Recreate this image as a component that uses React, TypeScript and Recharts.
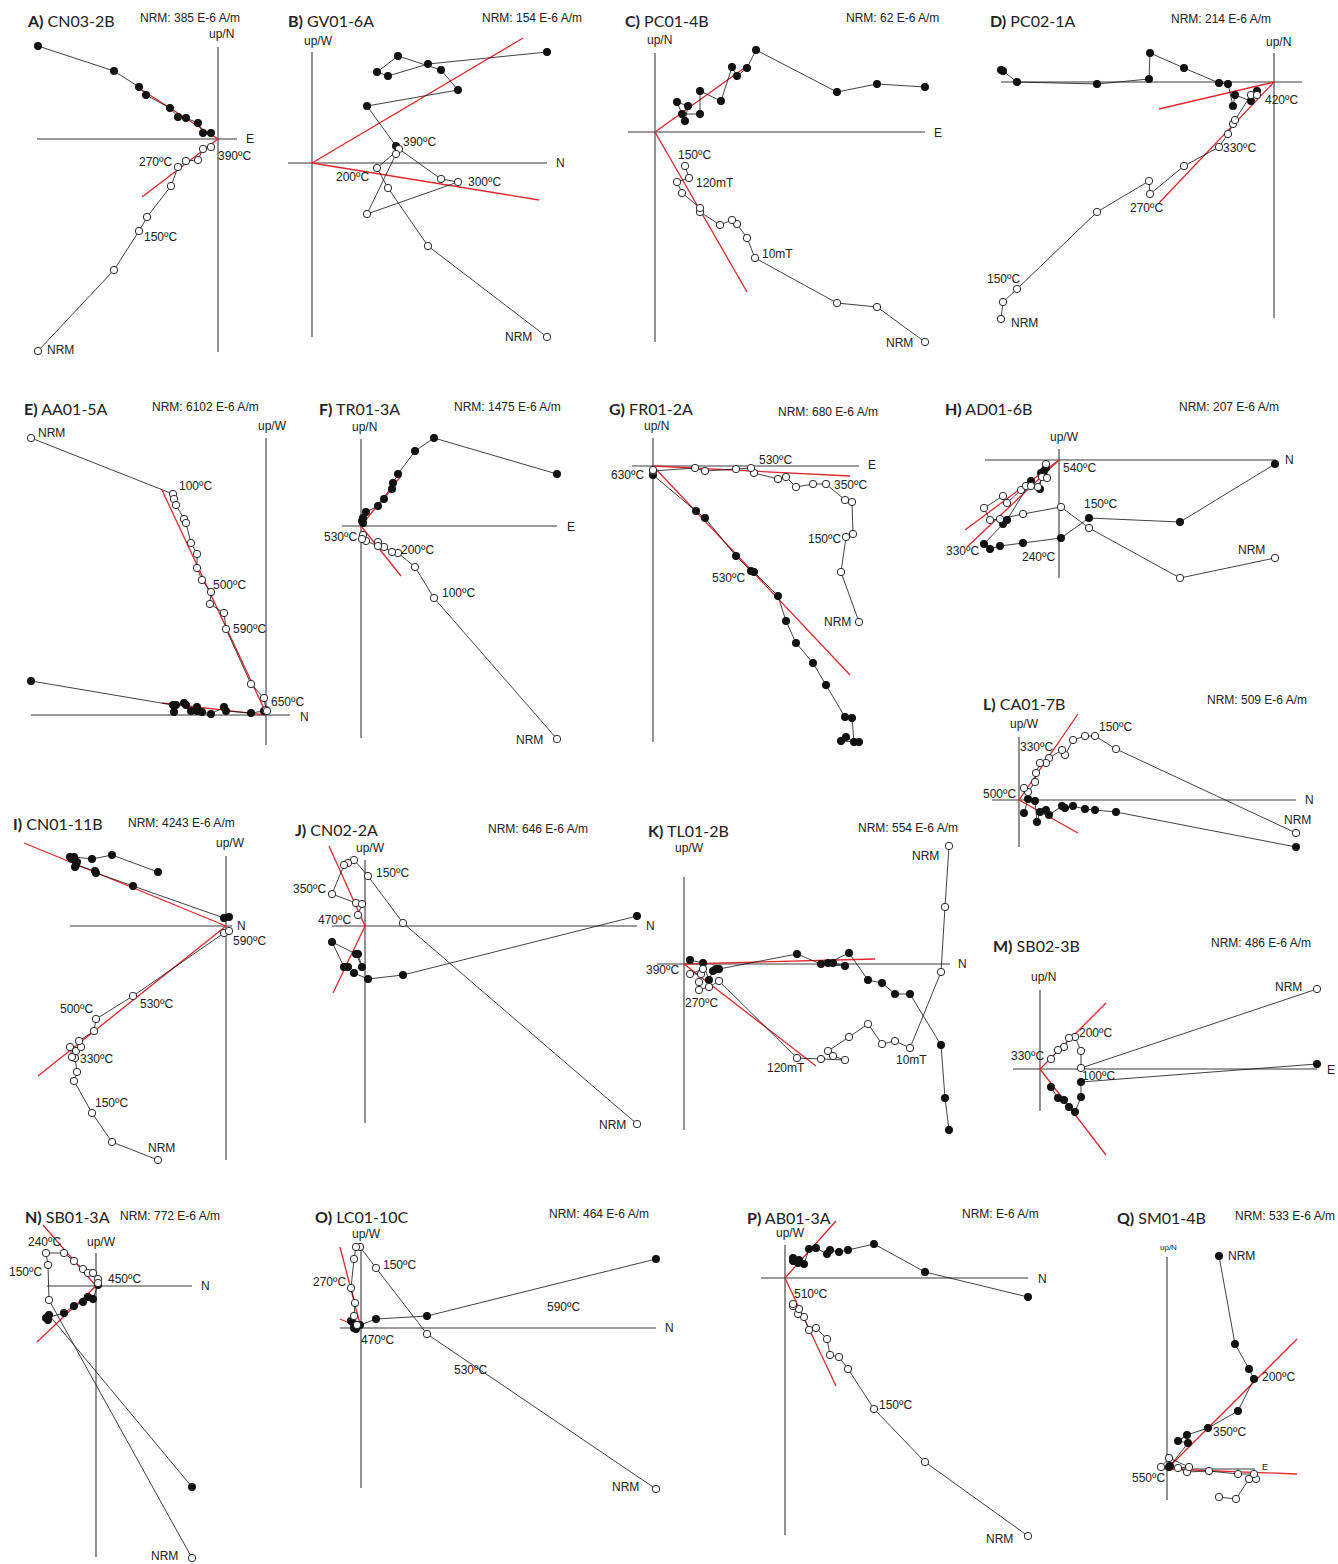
import React from "react";
import { ScatterChart, Scatter, XAxis, YAxis, ReferenceLine } from "recharts";

type P = [number, number];
type T = [string, number, number];

// Point offsets from each diagram's origin: x to the right, y up.
// "open" = vertical projection, "filled" = horizontal projection.

// A) CN03-2B
const aFilled: P[] = [[-180, 93], [-104, 68], [-79, 52], [-72, 44], [-48, 31], [-40, 22], [-32, 21], [-20, 16], [-15, 6], [-7, 6]];
const aOpen: P[] = [[-180, -212], [-104, -131], [-79, -92], [-71, -78], [-47, -47], [-40, -28], [-32, -22], [-20, -21], [-15, -10], [-7, -8]];
const aFits: P[][] = [[[-76, 49], [0, 0]], [[-76, -58], [0, 0]]];
const aText: T[] = [["NRM: 385 E-6 A/m", 140, 18], ["up/N", 209, 34], ["E", 246, 139], ["270ºC", 139, 162], ["390ºC", 218, 156], ["150ºC", 144, 237], ["NRM", 47, 350]];

// B) GV01-6A
const bFilled: P[] = [[235, 111], [116, 99], [76, 87], [65, 91], [86, 107], [129, 93], [146, 73], [55, 57], [84, 17]];
const bOpen: P[] = [[235, -174], [116, -83], [76, -25], [65, -5], [87, 14], [129, -16], [146, -19], [55, -51], [84, 9]];
const bFits: P[][] = [[[0, 0], [211, 125]], [[0, 0], [227, -37]]];
const bText: T[] = [["NRM:  154 E-6 A/m", 482, 18], ["up/W", 304, 41], ["N", 556, 163], ["390ºC", 403, 142], ["200ºC", 336, 177], ["300ºC", 468, 182], ["NRM", 505, 337]];

// C) PC01-4B
const cFilled: P[] = [[270, 45], [222, 48], [182, 40], [101, 82], [92, 64], [82, 56], [77, 65], [66, 31], [45, 41], [45, 18], [27, 18], [22, 30], [33, 26], [30, 11]];
const cOpen: P[] = [[270, -210], [222, -175], [182, -171], [100, -126], [92, -106], [82, -92], [77, -88], [65, -93], [45, -80], [45, -76], [27, -61], [22, -50], [34, -46], [30, -34]];
const cFits: P[][] = [[[0, 0], [92, 66]], [[0, 0], [92, -160]]];
const cText: T[] = [["NRM: 62 E-6 A/m", 846, 18], ["up/N", 647, 40], ["E", 934, 133], ["150ºC", 678, 155], ["120mT", 696, 183], ["10mT", 762, 254], ["NRM", 886, 343]];

// D) PC02-1A
const dFilled: P[] = [[-273, 12], [-271, 11], [-257, 0], [-177, -2], [-125, 3], [-124, 29], [-90, 14], [-55, -1], [-46, -2], [-41, -24], [-39, -13], [-23, -19], [-17, -9]];
const dOpen: P[] = [[-273, -237], [-271, -220], [-257, -207], [-177, -130], [-125, -99], [-124, -112], [-90, -84], [-55, -65], [-46, -52], [-41, -42], [-39, -38], [-23, -13], [-17, -13]];
const dFits: P[][] = [[[-115, -27], [0, 0]], [[-115, -121], [0, 0]]];
const dText: T[] = [["NRM: 214 E-6 A/m", 1171, 19], ["up/N", 1266, 42], ["420ºC", 1265, 100], ["330ºC", 1223, 148], ["270ºC", 1130, 208], ["150ºC", 987, 279], ["NRM", 1011, 323]];

// E) AA01-5A
const eFilled: P[] = [[-235, 34], [-93, 10], [-92, 3], [-90, 10], [-82, 12], [-80, 10], [-75, 4], [-69, 8], [-69, 4], [-64, 3], [-55, 1], [-42, 8], [-40, 4], [-15, 2], [-2, 4], [0, 4]];
const eOpen: P[] = [[-235, 277], [-93, 221], [-92, 216], [-90, 210], [-82, 196], [-80, 192], [-75, 172], [-69, 161], [-69, 147], [-64, 135], [-55, 123], [-56, 111], [-42, 102], [-40, 86], [-15, 31], [-2, 17], [0, 5], [1, 4]];
const eFits: P[][] = [[[-104, 225], [0, 2]], [[-104, 12], [0, 0]]];
const eText: T[] = [["NRM: 6102 E-6 A/m", 152, 407], ["up/W", 258, 426], ["N", 300, 717], ["100ºC", 179, 486], ["500ºC", 213, 585], ["590ºC", 233, 629], ["650ºC", 271, 702], ["NRM", 38, 433]];

// F) TR01-3A
const fFilled: P[] = [[196, 52], [73, 88], [54, 75], [37, 52], [32, 43], [31, 37], [23, 27], [17, 20], [5, 14], [2, 8], [1, 5], [2, 3]];
const fOpen: P[] = [[196, -213], [73, -72], [54, -41], [37, -27], [31, -26], [23, -21], [17, -16], [17, -20], [5, -15], [2, -9], [1, -13]];
const fFits: P[][] = [[[0, 0], [40, 50]], [[0, 0], [40, -50]]];
const fText: T[] = [["NRM: 1475 E-6 A/m", 454, 407], ["up/N", 352, 427], ["E", 567, 527], ["530ºC", 324, 537], ["200ºC", 401, 550], ["100ºC", 442, 593], ["NRM", 516, 740]];

// G) FR01-2A
const gFilled: P[] = [[206, -276], [188, -275], [193, -271], [201, -276], [199, -252], [192, -251], [173, -219], [160, -197], [143, -177], [133, -155], [125, -130], [101, -106], [98, -105], [83, -90], [52, -52], [43, -45], [0, -9]];
const gOpen: P[] = [[206, -156], [188, -106], [193, -71], [200, -68], [199, -36], [192, -34], [173, -18], [160, -18], [143, -21], [133, -11], [125, -13], [101, -7], [98, -2], [83, -3], [52, -5], [42, -2], [0, -5], [0, -4]];
const gFits: P[][] = [[[0, 0], [197, -10]], [[0, 0], [197, -209]]];
const gText: T[] = [["NRM: 680 E-6 A/m", 778, 412], ["up/N", 644, 426], ["E", 868, 465], ["530ºC", 759, 460], ["630ºC", 611, 475], ["350ºC", 834, 485], ["150ºC", 808, 539], ["530ºC", 712, 578], ["NRM", 824, 622]];

// H) AD01-6B
const hFilled: P[] = [[216, -4], [121, -62], [30, -58], [2, -78], [-36, -83], [-59, -86], [-69, -89], [-75, -84], [-56, -64], [-52, -60], [-28, -21], [-19, -29], [-18, -13], [-15, -11], [-13, -8]];
const hOpen: P[] = [[216, -98], [121, -118], [30, -68], [2, -47], [-36, -54], [-59, -59], [-69, -60], [-75, -48], [-56, -36], [-52, -43], [-38, -30], [-33, -26], [-28, -26], [-21, -27], [-17, -17], [-12, -18], [-13, -4]];
const hFits: P[][] = [[[-94, -70], [0, 0]], [[-92, -87], [0, 0]]];
const hText: T[] = [["NRM: 207 E-6 A/m", 1179, 407], ["up/W", 1050, 437], ["N", 1285, 460], ["540ºC", 1063, 468], ["150ºC", 1084, 504], ["330ºC", 946, 551], ["240ºC", 1022, 557], ["NRM", 1238, 550]];

// I) CN01-11B
const iFilled: P[] = [[-68, 54], [-114, 71], [-134, 67], [-152, 69], [-149, 64], [-151, 59], [-154, 67], [-156, 69], [-150, 61], [-131, 55], [-130, 53], [-93, 40], [-2, 8], [3, 9]];
const iOpen: P[] = [[-68, -234], [-114, -216], [-134, -187], [-152, -155], [-149, -146], [-151, -132], [-154, -131], [-156, -121], [-150, -125], [-145, -121], [-147, -115], [-132, -105], [-130, -93], [-93, -70], [-2, -7], [3, -5]];
const iFits: P[][] = [[[-202, 83], [0, 0]], [[-188, -150], [0, 0]]];
const iText: T[] = [["NRM: 4243 E-6 A/m", 128, 823], ["up/W", 216, 843], ["N", 237, 926], ["590ºC", 233, 941], ["530ºC", 140, 1004], ["500ºC", 60, 1009], ["330ºC", 80, 1059], ["150ºC", 95, 1103], ["NRM", 148, 1148]];

// J) CN02-2A
const jFilled: P[] = [[272, 10], [38, -49], [3, -53], [-11, -47], [-17, -41], [-21, -41], [-33, -16], [-9, -28], [-3, -41], [-7, -28]];
const jOpen: P[] = [[272, -198], [38, 3], [3, 50], [-11, 66], [-17, 63], [-21, 61], [-33, 32], [-9, 23], [-3, 22], [-7, 11]];
const jFits: P[][] = [[[-36, 80], [0, 0]], [[-32, -67], [0, 0]]];
const jText: T[] = [["NRM: 646 E-6 A/m", 488, 829], ["up/W", 356, 848], ["N", 646, 926], ["150ºC", 376, 873], ["350ºC", 293, 889], ["470ºC", 318, 920], ["NRM", 599, 1125]];

// K) TL01-2B
const kFilled: P[] = [[265, -166], [261, -134], [257, -81], [226, -30], [211, -30], [198, -19], [184, -16], [165, 11], [144, 1], [149, 1], [161, -2], [137, 0], [113, 10], [35, -5], [32, -5], [29, -7], [25, -16], [19, 1], [6, 4]];
const kOpen: P[] = [[265, 118], [261, 57], [257, -8], [226, -84], [211, -77], [198, -80], [184, -60], [165, -73], [144, -87], [149, -92], [161, -96], [137, -95], [113, -94], [35, -17], [25, -23], [15, -26], [15, -18], [17, -10], [6, -10], [19, -5]];
const kFits: P[][] = [[[0, 0], [191, 5]], [[0, 0], [132, -102]]];
const kText: T[] = [["NRM: 554 E-6 A/m", 858, 828], ["up/W", 675, 848], ["N", 958, 964], ["390ºC", 646, 970], ["270ºC", 685, 1003], ["120mT", 767, 1068], ["10mT", 896, 1060], ["NRM", 912, 856]];

// L) CA01-7B
const lFilled: P[] = [[277, -47], [97, -12], [76, -10], [66, -9], [54, -6], [46, -8], [43, -6], [30, -15], [27, -10], [21, -12], [18, -22], [16, -1], [9, 1], [5, -13]];
const lOpen: P[] = [[277, -33], [97, 51], [76, 64], [66, 64], [54, 60], [46, 45], [43, 50], [30, 42], [27, 37], [21, 37], [17, 27], [16, 18], [9, 8], [5, 12]];
const lFits: P[][] = [[[0, 0], [59, 86]], [[0, 0], [59, -33]]];
const lText: T[] = [["NRM: 509 E-6 A/m", 1207, 700], ["up/W", 1010, 724], ["N", 1305, 800], ["150ºC", 1099, 727], ["330ºC", 1020, 747], ["500ºC", 983, 794], ["NRM", 1284, 820]];

// M) SB02-3B
const mFilled: P[] = [[277, 5], [41, -13], [41, -28], [35, -43], [29, -38], [24, -31], [18, -29], [11, -18]];
const mOpen: P[] = [[277, 80], [41, 1], [41, 18], [35, 32], [29, 31], [24, 22], [18, 19], [11, 10]];
const mFits: P[][] = [[[0, 0], [66, 66]], [[0, 0], [66, -86]]];
const mText: T[] = [["NRM: 486 E-6 A/m", 1211, 943], ["up/N", 1031, 977], ["E", 1327, 1070], ["200ºC", 1079, 1033], ["330ºC", 1011, 1056], ["100ºC", 1082, 1076], ["NRM", 1275, 987]];

// N) SB01-3A
const nFilled: P[] = [[96, -201], [-47, -29], [-48, -34], [-50, -32], [-32, -27], [-22, -20], [-13, -16], [-8, -11], [-3, -13], [2, 1]];
const nOpen: P[] = [[96, -272], [-47, -14], [-48, 21], [-50, 33], [-32, 33], [-22, 25], [-13, 17], [-8, 13], [-3, 13], [2, 7], [2, 3]];
const nFits: P[][] = [[[-53, 61], [0, 0]], [[-59, -56], [0, 0]]];
const nText: T[] = [["NRM: 772 E-6 A/m", 120, 1216], ["up/W", 87, 1242], ["N", 201, 1286], ["240ºC", 28, 1242], ["150ºC", 9, 1272], ["450ºC", 108, 1279], ["NRM", 151, 1556]];

// O) LC01-10C
const oFilled: P[] = [[295, 69], [66, 12], [15, 9], [-1, 3], [-5, -1], [-7, 0], [-10, 7], [-6, 1], [-7, 4], [-4, 2]];
const oOpen: P[] = [[295, -161], [66, -6], [15, 60], [-1, 81], [-5, 81], [-7, 69], [-10, 40], [-6, 25], [-7, 12], [-4, 3]];
const oFits: P[][] = [[[-21, 81], [0, 0]], [[-21, 9], [0, 0]]];
const oText: T[] = [["NRM: 464 E-6 A/m", 549, 1214], ["up/W", 352, 1234], ["N", 665, 1328], ["150ºC", 383, 1265], ["270ºC", 313, 1282], ["590ºC", 547, 1307], ["470ºC", 361, 1340], ["530ºC", 454, 1370], ["NRM", 612, 1487]];

// P) AB01-3A
const pFilled: P[] = [[243, -19], [140, 6], [89, 34], [63, 28], [54, 26], [45, 28], [42, 24], [31, 30], [24, 29], [19, 14], [13, 15], [14, 18], [8, 17], [8, 20]];
const pOpen: P[] = [[243, -258], [140, -184], [89, -131], [63, -91], [54, -79], [45, -77], [42, -61], [31, -50], [24, -52], [19, -39], [13, -36], [14, -31], [8, -28], [8, -26]];
const pFits: P[][] = [[[0, 0], [51, -108]], [[0, 0], [51, 57]]];
const pText: T[] = [["NRM:  E-6 A/m", 962, 1214], ["up/W", 776, 1233], ["N", 1038, 1279], ["510ºC", 794, 1294], ["150ºC", 879, 1405], ["NRM", 986, 1539]];

// Q) SM01-4B
const qFilled: P[] = [[52, 213], [68, 125], [82, 100], [87, 90], [71, 58], [41, 41], [20, 34], [11, 28], [21, 26], [3, 3], [2, 2]];
const qOpen: P[] = [[52, -28], [69, -30], [82, -10], [89, -10], [87, -5], [71, -5], [42, -2], [20, -3], [11, 1], [22, 2], [2, 11], [-6, 2]];
const qFits: P[][] = [[[0, 0], [130, 130]], [[0, 0], [130, -5]]];
const qText: T[] = [["NRM: 533 E-6 A/m", 1235, 1216], ["NRM", 1228, 1256], ["200ºC", 1262, 1377], ["350ºC", 1213, 1432], ["550ºC", 1132, 1478]];

type Panel = {
  letter: string;
  name: string;
  title: P;
  origin: P;
  h: P;
  v: P;
  filled: P[];
  open: P[];
  fits: P[][];
  text: T[];
};

const panels: Panel[] = [
  { letter: "A)", name: "CN03-2B", title: [28, 20], origin: [218, 139], h: [-181, 19], v: [-213, 92], filled: aFilled, open: aOpen, fits: aFits, text: aText },
  { letter: "B)", name: "GV01-6A", title: [288, 20], origin: [312, 163], h: [-24, 235], v: [-174, 111], filled: bFilled, open: bOpen, fits: bFits, text: bText },
  { letter: "C)", name: "PC01-4B", title: [625, 20], origin: [655, 132], h: [-27, 270], v: [-210, 79], filled: cFilled, open: cOpen, fits: cFits, text: cText },
  { letter: "D)", name: "PC02-1A", title: [990, 20], origin: [1274, 82], h: [-273, 28], v: [-236, 29], filled: dFilled, open: dOpen, fits: dFits, text: dText },
  { letter: "E)", name: "AA01-5A", title: [24, 408], origin: [266, 715], h: [-235, 24], v: [-30, 277], filled: eFilled, open: eOpen, fits: eFits, text: eText },
  { letter: "F)", name: "TR01-3A", title: [319, 408], origin: [361, 526], h: [-19, 196], v: [-212, 87], filled: fFilled, open: fOpen, fits: fFits, text: fText },
  { letter: "G)", name: "FR01-2A", title: [609, 408], origin: [653, 466], h: [-21, 206], v: [-276, 28], filled: gFilled, open: gOpen, fits: gFits, text: gText },
  { letter: "H)", name: "AD01-6B", title: [945, 408], origin: [1059, 460], h: [-74, 217], v: [-118, 11], filled: hFilled, open: hOpen, fits: hFits, text: hText },
  { letter: "I)", name: "CN01-11B", title: [13, 823], origin: [226, 926], h: [-156, 6], v: [-234, 70], filled: iFilled, open: iOpen, fits: iFits, text: iText },
  { letter: "J)", name: "CN02-2A", title: [295, 829], origin: [365, 926], h: [-33, 272], v: [-197, 66], filled: jFilled, open: jOpen, fits: jFits, text: jText },
  { letter: "K)", name: "TL01-2B", title: [648, 830], origin: [684, 964], h: [-27, 266], v: [-166, 87], filled: kFilled, open: kOpen, fits: kFits, text: kText },
  { letter: "L)", name: "CA01-7B", title: [983, 703], origin: [1019, 800], h: [-27, 277], v: [-47, 63], filled: lFilled, open: lOpen, fits: lFits, text: lText },
  { letter: "M)", name: "SB02-3B", title: [993, 945], origin: [1040, 1069], h: [-27, 277], v: [-42, 79], filled: mFilled, open: mOpen, fits: mFits, text: mText },
  { letter: "N)", name: "SB01-3A", title: [25, 1216], origin: [96, 1286], h: [-49, 96], v: [-271, 33], filled: nFilled, open: nOpen, fits: nFits, text: nText },
  { letter: "O)", name: "LC01-10C", title: [315, 1216], origin: [361, 1328], h: [-21, 295], v: [-160, 81], filled: oFilled, open: oOpen, fits: oFits, text: oText },
  { letter: "P)", name: "AB01-3A", title: [747, 1217], origin: [785, 1278], h: [-24, 243], v: [-257, 33], filled: pFilled, open: pOpen, fits: pFits, text: pText },
  { letter: "Q)", name: "SM01-4B", title: [1117, 1217], origin: [1167, 1469], h: [-6, 88], v: [-31, 212], filled: qFilled, open: qOpen, fits: qFits, text: qText },
];

const RED = "#e3262b";
const AXIS = "#3a3a3a";
const LABEL_FONT = "'Liberation Sans', Arial, sans-serif";

const toRows = (pts: P[]) => pts.map(([x, y]) => ({ x, y }));

const dot = (fill: string) => (props: any) =>
  <circle cx={props.cx} cy={props.cy} r={3.7} fill={fill} stroke="#111" strokeWidth={0.9} />;

const Zijderveld = ({ p }: { p: Panel }) => {
  const pts: P[] = [...p.filled, ...p.open, ...p.fits.flat(), [p.h[0], 0], [p.h[1], 0], [0, p.v[0]], [0, p.v[1]]];
  const pad = 8;
  const x0 = Math.min(...pts.map((d) => d[0])) - pad;
  const x1 = Math.max(...pts.map((d) => d[0])) + pad;
  const y0 = Math.min(...pts.map((d) => d[1])) - pad;
  const y1 = Math.max(...pts.map((d) => d[1])) + pad;
  return (
    <div style={{ position: "absolute", left: p.origin[0] + x0, top: p.origin[1] - y1 }}>
      <ScatterChart width={x1 - x0} height={y1 - y0} margin={{ top: 0, right: 0, bottom: 0, left: 0 }}>
        <XAxis type="number" dataKey="x" domain={[x0, x1]} hide allowDataOverflow />
        <YAxis type="number" dataKey="y" domain={[y0, y1]} hide allowDataOverflow />
        <ReferenceLine segment={[{ x: p.h[0], y: 0 }, { x: p.h[1], y: 0 }]} stroke={AXIS} strokeWidth={1.1} ifOverflow="visible" />
        <ReferenceLine segment={[{ x: 0, y: p.v[0] }, { x: 0, y: p.v[1] }]} stroke={AXIS} strokeWidth={1.1} ifOverflow="visible" />
        <Scatter data={toRows(p.filled)} line={{ stroke: "#111", strokeWidth: 0.8 }} lineType="joint" shape={dot("#111")} isAnimationActive={false} />
        <Scatter data={toRows(p.open)} line={{ stroke: "#111", strokeWidth: 0.8 }} lineType="joint" shape={dot("#fff")} isAnimationActive={false} />
        {p.fits.map((f, i) => (
          <ReferenceLine key={i} segment={[{ x: f[0][0], y: f[0][1] }, { x: f[1][0], y: f[1][1] }]} stroke={RED} strokeWidth={1.3} ifOverflow="visible" />
        ))}
      </ScatterChart>
    </div>
  );
};

export default function App() {
  return (
    <div style={{ position: "absolute", left: 0, top: 0, width: 1338, height: 1564, background: "#fff" }}>
      {panels.map((p) => <Zijderveld key={p.letter} p={p} />)}
      <svg width={1338} height={1564} style={{ position: "absolute", left: 0, top: 0, pointerEvents: "none" }}>
        {panels.map((p) => (
          <g key={p.letter}>
            <text x={p.title[0]} y={p.title[1]} dominantBaseline="central" fontFamily="Lato, 'Open Sans', sans-serif" fontSize={16} fill="#222">
              <tspan fontWeight="bold">{p.letter}</tspan>{" " + p.name}
            </text>
            {p.text.map(([s, x, y], i) => (
              <text key={i} x={x} y={y} dominantBaseline="central" fontFamily={LABEL_FONT} fontSize={12} fill="#222">{s}</text>
            ))}
          </g>
        ))}
        <text x={1160} y={1247} dominantBaseline="central" fontFamily={LABEL_FONT} fontSize={8} fill="#222">up/N</text>
        <text x={1262} y={1467} dominantBaseline="central" fontFamily={LABEL_FONT} fontSize={9} fill="#222">E</text>
      </svg>
    </div>
  );
}
